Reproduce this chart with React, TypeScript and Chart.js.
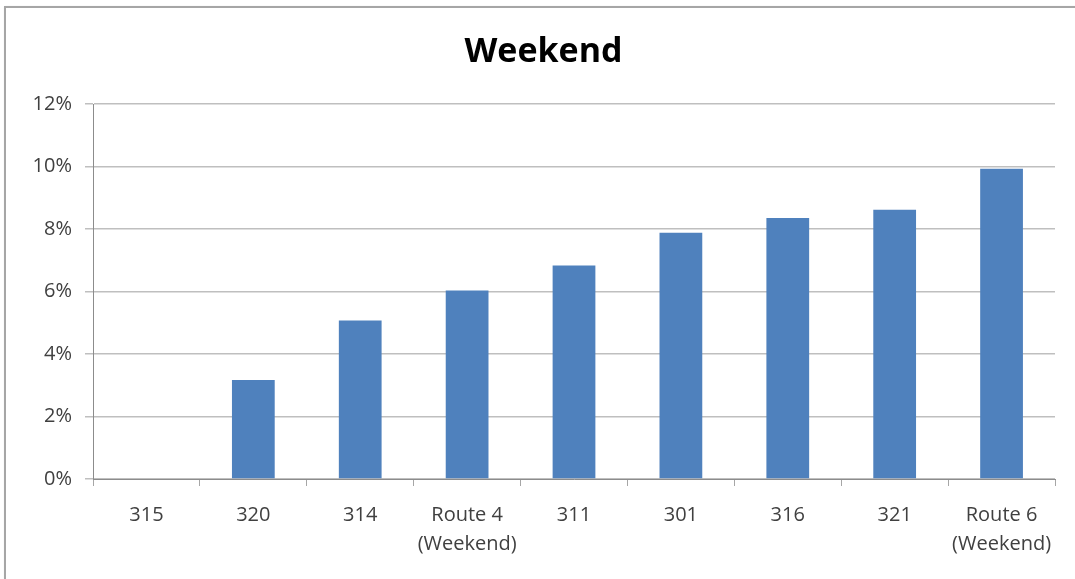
import React, { useEffect, useRef } from "react";
import { Chart, registerables } from "chart.js";

Chart.register(...registerables);

const categories: (string | string[])[] = [
  "315",
  "320",
  "314",
  ["Route 4", "(Weekend)"],
  "311",
  "301",
  "316",
  "321",
  ["Route 6", "(Weekend)"],
];
const values: number[] = [0, 3.17, 5.07, 6.03, 6.83, 7.88, 8.35, 8.62, 9.93];
const yTicks: number[] = [0, 2, 4, 6, 8, 10, 12];
const titleText = "Weekend";

export default function App() {
  const ref = useRef<HTMLCanvasElement | null>(null);
  useEffect(() => {
    if (!ref.current) return;
    const chart = new Chart(ref.current, {
      type: "bar",
      data: {
        labels: categories,
        datasets: [
          {
            data: values,
            backgroundColor: "#4F81BD",
            borderWidth: 0,
            barPercentage: 0.4,
            categoryPercentage: 1,
          },
        ],
      },
      options: {
        animation: false,
        responsive: false,
        maintainAspectRatio: false,
        layout: { padding: { left: 32, right: 20, top: 0, bottom: 0 } },
        plugins: {
          legend: { display: false },
          tooltip: { enabled: false },
          title: {
            display: true,
            text: titleText,
            color: "#000000",
            font: { family: "'Open Sans'", size: 34, weight: "bold", lineHeight: 1.2 },
            padding: { top: 32, bottom: 31.2 },
          },
        },
        scales: {
          x: {
            offset: true,
            grid: {
              offset: true,
              drawOnChartArea: false,
              drawTicks: true,
              tickLength: 7,
              color: "#A6A6A6",
              lineWidth: 1,
            },
            border: { display: true, color: "#8C8C8C", width: 1 },
            ticks: {
              color: "#404040",
              font: { family: "'Open Sans'", size: 20, lineHeight: 1.45 },
              padding: 15,
              maxRotation: 0,
              autoSkip: false,
            },
            afterFit: (s: any) => {
              s.height = 100;
            },
          },
          y: {
            min: 0,
            max: 12,
            afterBuildTicks: (s: any) => {
              s.ticks = yTicks.map((v) => ({ value: v }));
            },
            grid: {
              color: "#BFBFBF",
              lineWidth: 1.5,
              tickLength: 8,
              drawTicks: true,
            },
            border: { display: true, color: "#8C8C8C", width: 1 },
            ticks: {
              color: "#404040",
              font: { family: "'Open Sans'", size: 20 },
              padding: 13,
              callback: (v: any) => v + "%",
            },
            afterFit: (s: any) => {
              s.width = 61;
            },
          },
        },
      },
    });
    return () => chart.destroy();
  }, []);

  return (
    <div style={{ position: "fixed", left: 0, top: 0, width: 1075, height: 579, background: "#fff", overflow: "hidden" }}>
      <div
        style={{
          position: "absolute",
          left: 4,
          top: 6,
          width: 1100,
          height: 600,
          border: "2px solid #A6A6A6",
          boxShadow: "1px 1px 2px rgba(0,0,0,0.25)",
        }}
      />
      <canvas ref={ref} width={1075} height={579} style={{ position: "absolute", left: 0, top: 0 }} />
    </div>
  );
}
